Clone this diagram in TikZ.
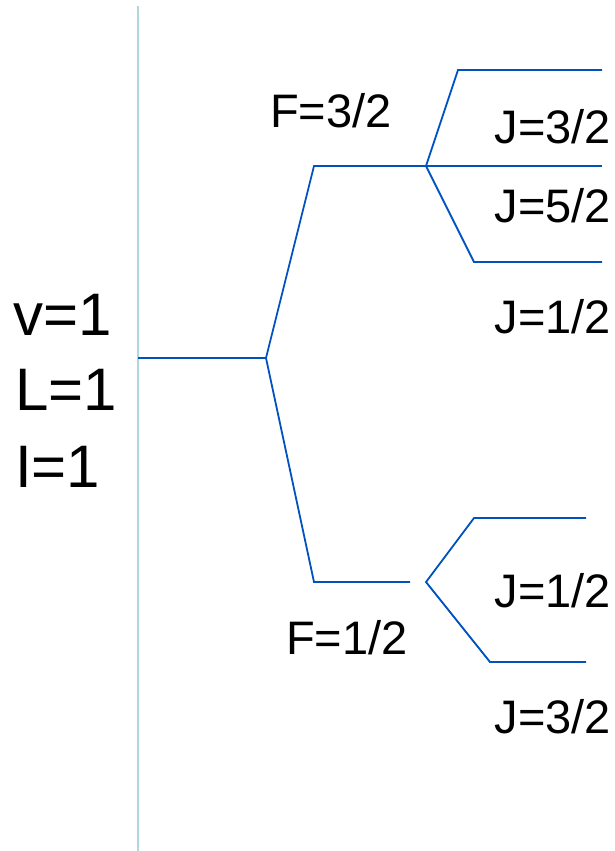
\documentclass[tikz,border=0pt]{standalone}
\usepackage{fontspec}
\setmainfont{Liberation Sans}
\usetikzlibrary{positioning}
\definecolor{levelblue}{RGB}{0,82,190}
\definecolor{axisgrey}{RGB}{178,216,222}

\begin{document}
\begin{tikzpicture}[
  x=1pt, y=-1pt,
  level/.style={draw=levelblue, line width=1.8pt},
  axis/.style={draw=axisgrey, line width=1.8pt},
  qnum/.style={font=\fontsize{60}{72}\selectfont, anchor=base west, inner sep=0pt},
  jlab/.style={font=\fontsize{47}{56}\selectfont, anchor=base east, inner sep=0pt},
  flab/.style={font=\fontsize{47}{56}\selectfont, anchor=base west, inner sep=0pt}
]
\useasboundingbox (0,0) rectangle (615,851);

% axis
\coordinate (axtop) at (138,6);
\coordinate (axbot) at (138,851);
\draw[axis] (axtop) -- (axbot);

% quantum numbers
\node[qnum] (v) at (13,335) {v=1};
\node[qnum] (L) at (15,410) {L=1};
\node[qnum] (I) at (15,487) {I=1};

% base level and F split
\coordinate (base0) at (138,358);
\coordinate (base1) at (266,358);
\coordinate (Fhi0) at (314,166);
\coordinate (Fhi1) at (426,166);
\coordinate (Flo0) at (314,582);
\coordinate (Flo1) at (410,582);
\draw[level] (base0) -- (base1) -- (Fhi0) -- (Fhi1);
\draw[level] (base1) -- (Flo0) -- (Flo1);

% J split of F=3/2
\coordinate (Ja0) at (458,70);
\coordinate (Ja1) at (602,70);
\coordinate (Jb1) at (602,166);
\coordinate (Jc0) at (474,262);
\coordinate (Jc1) at (602,262);
\draw[level] (Ja1) -- (Ja0) -- (Fhi1) -- (Jc0) -- (Jc1);
\draw[level] (Fhi1) -- (Jb1);

% J split of F=1/2
\coordinate (Jv) at (426,582);
\coordinate (Jd0) at (474,518);
\coordinate (Jd1) at (586,518);
\coordinate (Je0) at (490,662);
\coordinate (Je1) at (586,662);
\draw[level] (Jd1) -- (Jd0) -- (Jv) -- (Je0) -- (Je1);

% labels
\node[flab] (F32) at (270,127) {F=3/2};
\node[flab] (F12) at (286,654) {F=1/2};
\node[jlab] (J32a) at (611,143) {J=3/2};
\node[jlab] (J52) at (611,222) {J=5/2};
\node[jlab] (J12a) at (611,333) {J=1/2};
\node[jlab] (J12b) at (611,607) {J=1/2};
\node[jlab] (J32b) at (611,733) {J=3/2};
\end{tikzpicture}
\end{document}
